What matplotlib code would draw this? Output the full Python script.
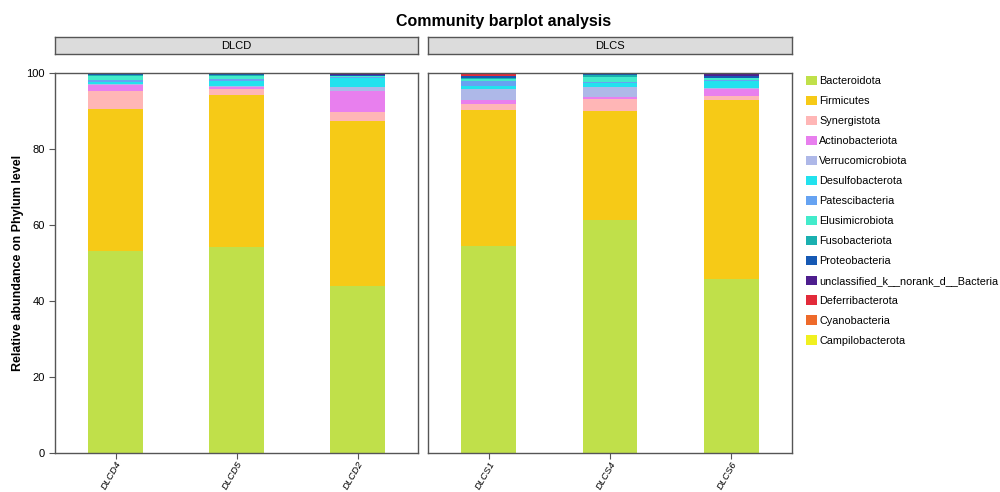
import numpy as np
import matplotlib
matplotlib.use("Agg")
import matplotlib.pyplot as plt
from matplotlib.patches import Patch

plt.rcParams['font.family'] = ['Liberation Sans', 'DejaVu Sans']

# samples in each group
groups = ["DLCD", "DLCS"]
samples_dlcd = ["DLCD4", "DLCD5", "DLCD2"]
samples_dlcs = ["DLCS1", "DLCS4", "DLCS6"]

phyla = ["Bacteroidota", "Firmicutes", "Synergistota", "Actinobacteriota",
         "Verrucomicrobiota", "Desulfobacterota", "Patescibacteria",
         "Elusimicrobiota", "Fusobacteriota", "Proteobacteria",
         "unclassified_k__norank_d__Bacteria", "Deferribacterota",
         "Cyanobacteria", "Campilobacterota"]

# relative abundance (%), order: DLCD4, DLCD5, DLCD2, DLCS1, DLCS4, DLCS6
bacteroidota = [53.2, 54.2, 43.9, 54.7, 61.3, 45.8]
firmicutes = [37.3, 40.0, 43.5, 35.7, 28.8, 47.3]
synergistota = [4.8, 1.6, 2.4, 1.6, 3.0, 1.0]
actinobacteriota = [1.6, 0.6, 5.5, 1.1, 0.5, 1.8]
verrucomicrobiota = [0.3, 0.2, 1.2, 2.8, 2.8, 0.2]
desulfobacterota = [0.3, 1.3, 2.2, 1.0, 1.0, 2.0]
patescibacteria = [0.6, 0.5, 0.4, 1.2, 0.4, 0.2]
elusimicrobiota = [1.2, 0.9, 0.1, 0.4, 1.1, 0.4]
fusobacteriota = [0.1, 0.2, 0.1, 0.3, 0.5, 0.2]
proteobacteria = [0.3, 0.3, 0.2, 0.5, 0.4, 0.5]
unclassified = [0.2, 0.2, 0.3, 0.2, 0.2, 0.4]
deferribacterota = [0.05, 0.02, 0.3, 0.6, 0.03, 0.2]
cyanobacteria = [0.02, 0.01, 0.02, 0.1, 0.02, 0.1]
campilobacterota = [0.01, 0.01, 0.01, 0.01, 0.01, 0.01]

colors = ["#C0E04A", "#F6CA17", "#FFB6B6", "#E87FEE", "#AEB8E8", "#22E2EE",
          "#66A3F2", "#43EBCB", "#1AB0B0", "#1659B4", "#4E1E8E", "#E22B3A",
          "#EE6A2A", "#F0F020"]

values = np.array([bacteroidota, firmicutes, synergistota, actinobacteriota,
                   verrucomicrobiota, desulfobacterota, patescibacteria,
                   elusimicrobiota, fusobacteriota, proteobacteria, unclassified,
                   deferribacterota, cyanobacteria, campilobacterota])
values = values / values.sum(axis=0) * 100

frame_col = "#555555"

fig = plt.figure(figsize=(10, 4.92), dpi=100)
ax1 = fig.add_axes([0.055, 0.0793, 0.363, 0.7724])
ax2 = fig.add_axes([0.428, 0.0793, 0.364, 0.7724])

panels = [(ax1, samples_dlcd, values[:, :3]), (ax2, samples_dlcs, values[:, 3:])]
for i, (ax, names, vals) in enumerate(panels):
    x = np.arange(1, len(names) + 1)
    bottom = np.zeros(len(names))
    for k in range(len(phyla)):
        ax.bar(x, vals[k], 0.45, bottom=bottom, color=colors[k], linewidth=0)
        bottom += vals[k]
    ax.set_xlim(0.5, 3.5)
    ax.set_ylim(0, 100)
    ax.set_xticks(x)
    ax.set_xticklabels(names, rotation=60, ha='right', va='top',
                       rotation_mode='anchor', fontsize=6.8, style='italic')
    for s in ax.spines.values():
        s.set_color(frame_col)
        s.set_linewidth(1.0)
    ax.tick_params(axis='x', length=4, color=frame_col, pad=1)
    if i == 0:
        ax.set_yticks([0, 20, 40, 60, 80, 100])
        ax.tick_params(axis='y', length=4, color=frame_col, labelsize=8)
        ax.set_ylabel("Relative abundance on Phylum level", fontsize=9,
                      fontweight='bold')
    else:
        ax.set_yticks([])
ax1.yaxis.set_label_coords(-0.085, 0.5)

# facet strips
for left, width, label in [(0.055, 0.363, groups[0]), (0.428, 0.364, groups[1])]:
    sax = fig.add_axes([left, 0.8902, width, 0.0346])
    sax.set_facecolor("#DCDCDC")
    sax.set_xticks([])
    sax.set_yticks([])
    for s in sax.spines.values():
        s.set_color(frame_col)
        s.set_linewidth(1.0)
    sax.text(0.5, 0.5, label, ha='center', va='center', fontsize=8,
             transform=sax.transAxes)

fig.text(0.504, 0.956, "Community barplot analysis", ha='center', va='center',
         fontsize=11.5, fontweight='bold')

handles = [Patch(facecolor=c, edgecolor='none') for c in colors]
fig.legend(handles, phyla, loc='upper left', bbox_to_anchor=(0.802, 0.855),
           frameon=False, fontsize=7.8, handlelength=0.95, handleheight=1.0,
           handletextpad=0.25, labelspacing=0.87, borderaxespad=0)

fig.savefig("out.png", dpi=100)
